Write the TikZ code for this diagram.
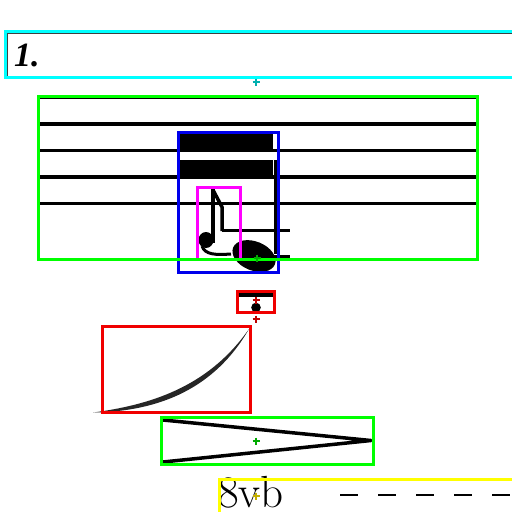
\documentclass[tikz,border=0pt]{standalone}
\usepackage{fontspec}
\newfontfamily\numfont{Liberation Serif}
\definecolor{boxcyan}{RGB}{0,255,255}
\definecolor{markcyan}{RGB}{0,175,175}
\definecolor{boxgreen}{RGB}{0,255,0}
\definecolor{markgreen}{RGB}{0,170,0}
\definecolor{boxred}{RGB}{240,0,0}
\definecolor{markred}{RGB}{190,0,0}
\definecolor{boxblue}{RGB}{0,0,235}
\definecolor{boxmagenta}{RGB}{255,0,255}
\definecolor{boxyellow}{RGB}{255,255,0}
\definecolor{markyellow}{RGB}{195,175,0}
\newcommand\annmark[3]{\draw[#1,line width=2pt] (#2-3.5,#3)--(#2+3.5,#3) (#2,#3-3.5)--(#2,#3+3.5);}
\begin{document}
\begin{tikzpicture}[x=1pt,y=-1pt,
  annbox/.style={line width=3pt},
  staffline/.style={line width=3.5pt, black},
  ink/.style={line width=3.5pt, black},
]
\useasboundingbox (0,0) rectangle (512,512);
\clip (0,0) rectangle (512,512);
% title box
\draw[line width=1.2pt, black!75] (7.5,76) -- (7.5,33) -- (520,33);
\node[anchor=base west, inner sep=0] (num) at (14,66) {\fontsize{34}{34}\selectfont\numfont\bfseries\itshape 1.};
% staff
\foreach \yy in {97.5,124,150.5,177,203.5} {\draw[staffline] (38,\yy) -- (477,\yy);}
% beams and stem
\fill (180,133.5) rectangle (273,151);
\fill (180,160) rectangle (273,175);
\draw[ink] (275.5,160) -- (275.5,254);
% ledger lines
\draw[ink] (222,230.5) -- (290,230.5);
\draw[ink] (235,256.5) -- (290,256.5);
% notehead
\fill[rotate around={-22:(254,256)}] (254,256) ellipse (22.5 and 14.5);
% grace note
\draw[ink] (213,188) -- (213,243);
\draw[ink, line join=round] (213,190) -- (222,207) -- (222,231);
\fill (206,240) ellipse (7.5 and 8);
\draw[line width=3pt] (202,246) .. controls (205,255) and (216,255) .. (231,254);
% small accent
\fill (239,293) rectangle (273,296.5);
\fill (256,307.5) circle (4.8);
% slur
\fill[black!85] (93,412.5) .. controls (160,411.5) and (215,388) .. (249,329)
   .. controls (211,383) and (158,404) .. (93,412.5) -- cycle;
% hairpin
\draw[ink, line join=round] (163,420) -- (371,440.5) -- (163,462);
% ottava
\node[anchor=base west, inner sep=0] (ottava) at (218,507.5) {\fontsize{45}{45}\selectfont 8vb};
\draw[line width=2.2pt, dash pattern=on 18pt off 20pt] (340,495) -- (515,495);
% boxes
\draw[annbox, boxcyan] (5,31) rectangle (520,77);
\draw[annbox, boxmagenta] (197.5,187.5) rectangle (240.5,259);
\draw[annbox, boxblue] (178.5,132.5) rectangle (278,272);
\draw[annbox, boxgreen] (38.5,96) rectangle (477.5,259);
\draw[annbox, boxred] (237.5,291) rectangle (274.5,312);
\draw[annbox, boxred] (102.5,326.5) rectangle (250,412.5);
\draw[annbox, boxgreen] (161.5,417.5) rectangle (373,464.5);
\draw[annbox, boxyellow] (219,479.5) rectangle (520,520);
% markers
\annmark{markcyan}{256}{82}
\annmark{markgreen}{257}{258}
\annmark{markred}{256}{300}
\annmark{markred}{256}{319}
\annmark{markgreen}{256}{441}
\annmark{markyellow}{256}{496}
\end{tikzpicture}
\end{document}
